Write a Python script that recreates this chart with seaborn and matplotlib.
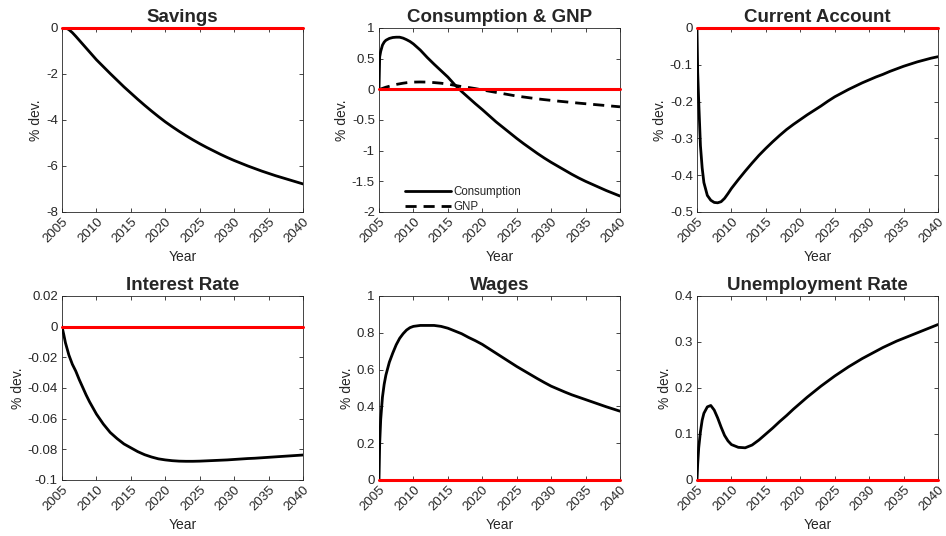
import numpy as np
import pandas as pd
import matplotlib
matplotlib.use("Agg")
import matplotlib.pyplot as plt
import seaborn as sns

years = [2005, 2005.1, 2005.25, 2005.5, 2005.75, 2006, 2006.5, 2007, 2007.5, 2008, 2008.5,
         2009, 2009.5] + list(range(2010, 2041))

savings = [0, 0, 0, -0.01, -0.03, -0.07, -0.2, -0.36, -0.53, -0.7, -0.87, -1.04, -1.21,
           -1.38, -1.68, -1.98, -2.27, -2.56, -2.83, -3.10, -3.36, -3.61, -3.85, -4.08,
           -4.29, -4.49, -4.68, -4.86, -5.03, -5.19, -5.34, -5.49, -5.63, -5.76, -5.88,
           -6.00, -6.11, -6.22, -6.32, -6.42, -6.51, -6.60, -6.69, -6.78]

consumption = [0, 0.53, 0.62, 0.72, 0.77, 0.80, 0.83, 0.845, 0.85, 0.85, 0.835, 0.81, 0.78,
               0.74, 0.64, 0.52, 0.41, 0.305, 0.20, 0.075, -0.035, -0.135, -0.235, -0.33,
               -0.43, -0.53, -0.62, -0.71, -0.80, -0.885, -0.965, -1.045, -1.12, -1.19,
               -1.255, -1.32, -1.385, -1.445, -1.50, -1.55, -1.60, -1.65, -1.695, -1.74]

gnp = [0, 0.0, 0.005, 0.015, 0.025, 0.035, 0.05, 0.065, 0.08, 0.09, 0.10, 0.108, 0.114,
       0.118, 0.12, 0.118, 0.11, 0.1, 0.085, 0.065, 0.045, 0.03, 0.012, -0.01,
       -0.03, -0.05, -0.07, -0.09, -0.11, -0.125, -0.14, -0.155, -0.168, -0.18,
       -0.192, -0.203, -0.214, -0.225, -0.235, -0.245, -0.255, -0.265, -0.275, -0.285]

current_account = [0, -0.12, -0.2, -0.32, -0.38, -0.42, -0.455, -0.468, -0.474, -0.475,
                   -0.472, -0.463, -0.45, -0.436, -0.412, -0.389, -0.367, -0.346, -0.327,
                   -0.309, -0.292, -0.276, -0.262, -0.249, -0.236, -0.224, -0.212, -0.199,
                   -0.187, -0.177, -0.167, -0.158, -0.149, -0.141, -0.133, -0.126, -0.118,
                   -0.111, -0.104, -0.098, -0.092, -0.087, -0.082, -0.078]

interest_rate = [0, -0.002, -0.005, -0.0105, -0.0145, -0.0185, -0.0245, -0.029, -0.0345,
                 -0.0395, -0.0445, -0.049, -0.053, -0.057, -0.0635, -0.069, -0.073, -0.0765,
                 -0.079, -0.0815, -0.0835, -0.085, -0.0862, -0.0869, -0.0874, -0.0877,
                 -0.0878, -0.0878, -0.0877, -0.0875, -0.0873, -0.0871, -0.0869, -0.0866,
                 -0.0863, -0.0860, -0.0858, -0.0855, -0.0852, -0.0849, -0.0846, -0.0843,
                 -0.0840, -0.0837]

wages = [0, 0.2, 0.33, 0.45, 0.52, 0.57, 0.64, 0.69, 0.735, 0.77, 0.795, 0.815, 0.828,
         0.835, 0.84, 0.84, 0.84, 0.835, 0.825, 0.81, 0.795, 0.775, 0.757, 0.737, 0.713,
         0.689, 0.665, 0.641, 0.617, 0.595, 0.573, 0.551, 0.530, 0.510, 0.494, 0.478,
         0.463, 0.450, 0.437, 0.424, 0.411, 0.398, 0.386, 0.374]

unemployment = [0, 0.035, 0.07, 0.105, 0.13, 0.145, 0.159, 0.162, 0.152, 0.135, 0.115,
                0.097, 0.085, 0.077, 0.071, 0.07, 0.076, 0.087, 0.100, 0.113, 0.127, 0.140,
                0.154, 0.167, 0.180, 0.192, 0.204, 0.215, 0.226, 0.236, 0.246, 0.255,
                0.264, 0.272, 0.280, 0.288, 0.295, 0.302, 0.308, 0.314, 0.320, 0.326,
                0.332, 0.338]

titles = ["Savings", "Consumption & GNP", "Current Account",
          "Interest Rate", "Wages", "Unemployment Rate"]
ylims = [(-8, 0), (-2, 1), (-0.5, 0), (-0.1, 0.02), (0, 1), (0, 0.4)]
ysteps = [2, 0.5, 0.1, 0.02, 0.2, 0.1]
xticks = list(range(2005, 2041, 5))

sns.set_style("ticks")
plt.rcParams['font.family'] = ['Liberation Sans', 'DejaVu Sans']
plt.rcParams['axes.unicode_minus'] = False

fig = plt.figure(figsize=(9.46, 5.36), dpi=100)
lefts = [62 / 946, 379 / 946, 697 / 946]
bottoms = [1 - 212 / 536, 1 - 480 / 536]
w = 241 / 946
h = 184 / 536

series = [savings, consumption, current_account, interest_rate, wages, unemployment]
edge = "#262626"
for i in range(6):
    r, c = divmod(i, 3)
    ax = fig.add_axes([lefts[c], bottoms[r], w, h])
    df = pd.DataFrame({"Year": years, "val": series[i]})
    ax.axhline(0, color="red", lw=2.2, zorder=5, clip_on=False)
    if i == 1:
        sns.lineplot(data=df, x="Year", y="val", ax=ax, color="black", lw=2,
                     label="Consumption", zorder=4)
        dg = pd.DataFrame({"Year": years, "val": gnp})
        sns.lineplot(data=dg, x="Year", y="val", ax=ax, color="black", lw=2,
                     label="GNP", zorder=4)
        ax.lines[-1].set_dashes((4, 2.5))
        ax.legend(loc="lower left", bbox_to_anchor=(0.08, -0.045), frameon=False,
                  fontsize=8.3, handlelength=4.0, handletextpad=0.2,
                  labelspacing=0.3, borderaxespad=0.2)
    else:
        sns.lineplot(data=df, x="Year", y="val", ax=ax, color="black", lw=2, zorder=4)
    lo, hi = ylims[i]
    ax.set_xlim(2005, 2040)
    ax.set_ylim(lo, hi)
    yt = np.round(np.arange(lo, hi + ysteps[i] / 2, ysteps[i]), 4) + 0.0
    ax.set_yticks(yt)
    ax.set_yticklabels(["%g" % (0.0 if abs(v) < 1e-9 else v) for v in yt])
    ax.set_xticks(xticks)
    ax.set_xticklabels([str(x) for x in xticks], rotation=45, ha="right", va="top",
                       rotation_mode="anchor")
    ax.tick_params(direction="in", top=True, right=True, length=3, width=0.6,
                   labelsize=9.5, colors=edge, pad=3)
    ax.tick_params(axis="x", pad=3)
    for s in ax.spines.values():
        s.set_visible(True)
        s.set_color(edge)
        s.set_linewidth(0.6)
    ax.set_xlabel("Year", fontsize=10, color=edge, labelpad=3)
    ax.set_ylabel("% dev.", fontsize=10, color=edge, labelpad=2)
    ax.set_title(titles[i], fontsize=13.5, fontweight="bold", pad=4)

fig.savefig("out.png", dpi=100)
